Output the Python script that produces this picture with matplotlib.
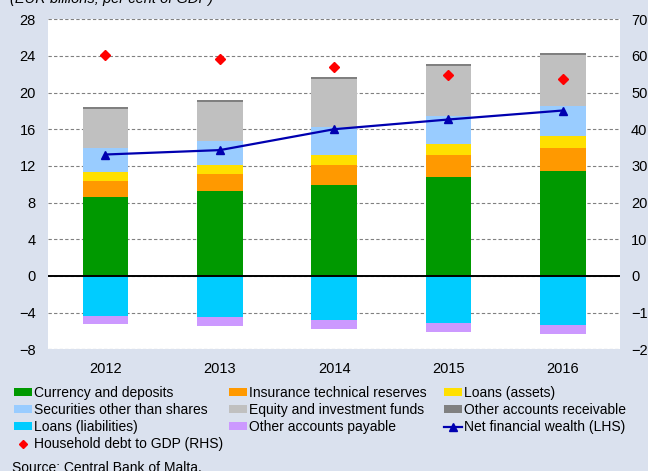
import matplotlib
matplotlib.use("Agg")
import matplotlib.pyplot as plt
import numpy as np
from matplotlib.patches import Patch
from matplotlib.lines import Line2D

plt.rcParams['font.family'] = ['Liberation Sans', 'DejaVu Sans']

years = ['2012', '2013', '2014', '2015', '2016']
currency = [8.64, 9.22, 9.95, 10.78, 11.44]
insurance = [1.74, 1.93, 2.14, 2.40, 2.54]
loans_assets = [0.91, 0.98, 1.16, 1.23, 1.30]
securities = [2.69, 2.58, 3.05, 3.02, 3.27]
equity = [4.25, 4.24, 5.20, 5.48, 5.56]
other_recv = [0.18, 0.22, 0.25, 0.22, 0.25]
loans_liab = [-4.32, -4.47, -4.79, -5.12, -5.34]
other_pay = [-0.87, -0.98, -0.98, -0.98, -1.01]
net_wealth = [13.25, 13.73, 16.01, 17.07, 18.05]
debt_gdp = [60.4, 59.1, 57.0, 54.8, 53.8]

left_ticks = list(range(-8, 29, 4))
right_ticks = list(range(-20, 71, 10))

pos_series = [
    ('Currency and deposits', currency, '#009900'),
    ('Insurance technical reserves', insurance, '#FF9900'),
    ('Loans (assets)', loans_assets, '#FFE000'),
    ('Securities other than shares', securities, '#99CCFF'),
    ('Equity and investment funds', equity, '#C0C0C0'),
    ('Other accounts receivable', other_recv, '#808080'),
]
neg_series = [
    ('Loans (liabilities)', loans_liab, '#00CCFF'),
    ('Other accounts payable', other_pay, '#CC99FF'),
]

BG = '#dae1ee'
W, H = 648, 471
fig = plt.figure(figsize=(W / 100, H / 100), dpi=100, facecolor=BG)
ax = fig.add_axes([48.3 / W, 1 - 349.3 / H, (620 - 48.3) / W, (349.3 - 19.3) / H])
ax.set_facecolor('white')

x = np.arange(len(years))
bw = 0.4
bottom = np.zeros(len(years))
handles = {}
for name, vals, col in pos_series:
    v = np.array(vals)
    ax.bar(x, v, bw, bottom=bottom, color=col, edgecolor='none', zorder=2)
    handles[name] = Patch(facecolor=col, edgecolor='none')
    bottom = bottom + v
nb = np.zeros(len(years))
for name, vals, col in neg_series:
    v = np.array(vals)
    ax.bar(x, v, bw, bottom=nb, color=col, edgecolor='none', zorder=2)
    handles[name] = Patch(facecolor=col, edgecolor='none')
    nb = nb + v

ax.axhline(0, color='black', lw=1.4, zorder=3)
ax.plot(x, net_wealth, color='#0000B0', lw=1.6, marker='^', markersize=6,
        markerfacecolor='#0000B0', markeredgecolor='#0000B0', zorder=4)
handles['Net financial wealth (LHS)'] = Line2D([], [], color='#0000B0', lw=1.6, marker='^',
                                               markersize=6)

ax.set_xlim(-0.5, len(years) - 0.5)
ax.set_ylim(-8, 28)
ax.set_yticks(left_ticks)
ax.set_xticks(x)
ax.set_xticklabels(years)
ax.set_axisbelow(True)
ax.yaxis.grid(True, linestyle=(0, (3, 2)), color='#808080', lw=0.8)
for s in ax.spines.values():
    s.set_visible(False)
ax.tick_params(axis='both', length=0, labelsize=10.5)
ax.tick_params(axis='y', pad=9)
ax.tick_params(axis='x', pad=9)

ax2 = ax.twinx()
ax2.set_ylim(-20, 70)
ax2.set_yticks(right_ticks)
for s in ax2.spines.values():
    s.set_visible(False)
ax2.tick_params(axis='y', length=0, labelsize=10.5, pad=8)
ax2.plot(x, debt_gdp, linestyle='none', marker='D', markersize=5, color='#FF0000', zorder=5)
handles['Household debt to GDP (RHS)'] = Line2D([], [], linestyle='none', marker='D',
                                                markersize=4.5, color='#FF0000')

cols = [
    ['Currency and deposits', 'Securities other than shares', 'Loans (liabilities)',
     'Household debt to GDP (RHS)'],
    ['Insurance technical reserves', 'Equity and investment funds', 'Other accounts payable'],
    ['Loans (assets)', 'Other accounts receivable', 'Net financial wealth (LHS)'],
]
col_x = [14, 229, 444]
for cx, names in zip(col_x, cols):
    fig.legend([handles[n] for n in names], names, loc='upper left',
               bbox_to_anchor=(cx / W, 1 - 386 / H), frameon=False, fontsize=10,
               borderpad=0, borderaxespad=0, handlelength=1.3, handleheight=0.5,
               handletextpad=0.15, labelspacing=0.22)

fig.text(10 / W, 1 - 3 / H, '(EUR billions; per cent of GDP)', fontsize=10.5,
         style='italic', va='baseline', ha='left')
fig.text(12 / W, 1 - 471.5 / H, 'Source: Central Bank of Malta.', fontsize=10,
         va='baseline', ha='left')

fig.savefig('out.png', dpi=100, facecolor=BG)
